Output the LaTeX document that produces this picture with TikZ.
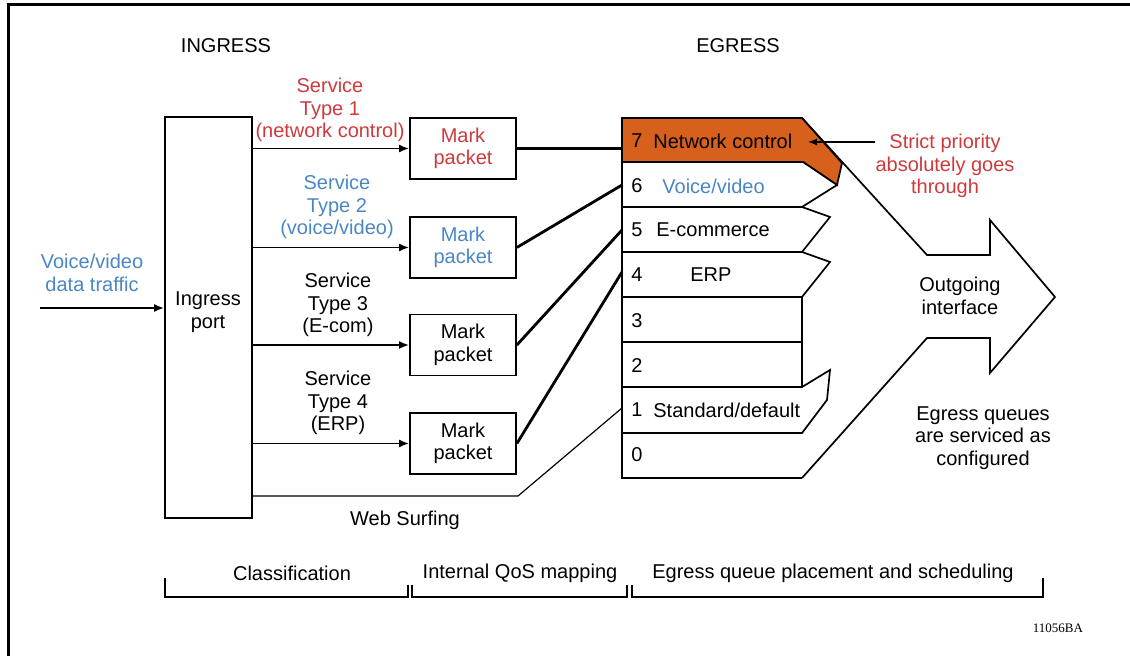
\documentclass[tikz,border=0pt]{standalone}
\usepackage{fontspec}
\setmainfont{Liberation Sans}
\newfontfamily\serifid{Liberation Serif}
\usetikzlibrary{arrows.meta}
\definecolor{cred}{RGB}{206,58,60}
\definecolor{cblue}{RGB}{74,134,197}
\definecolor{corange}{RGB}{214,96,28}
\begin{document}
\begin{tikzpicture}[x=0.5pt,y=-0.5pt,
  every node/.style={font=\fontsize{10}{11.25}\selectfont, align=center, inner sep=0pt},
  box/.style={draw, line width=0.9pt, minimum width=53pt, minimum height=30.5pt},
  flow/.style={line width=0.9pt, -{Latex[length=5pt,width=4pt]}},
  heavy/.style={line width=1.4pt},
  thinline/.style={line width=0.6pt},
  queue/.style={draw, line width=0.85pt, fill=white},
  brk/.style={line width=0.85pt}
]
\useasboundingbox (0,0) rectangle (1130,656);
% frame
\draw[line width=1.5pt] (8,656) -- (8,5) -- (1130,5);

% headings
\node (hin) at (226,46) {INGRESS};
\node (heg) at (738,46) {EGRESS};

% ingress port
\node[draw, line width=0.9pt, minimum width=43.5pt, minimum height=200.5pt] (ing) at (208.5,317.5) {};
\node (ingt) at (208,312) {Ingress\\port};

% input
\coordinate (in) at (40,308);
\node[text=cblue] (vv) at (92,273) {Voice/video\\data traffic};
\draw[flow] (in) -- (in -| ing.west);

% mark packet boxes
\node[box, text=cred] (m1) at (463,148.5) {Mark\\packet};
\node[box, text=cblue] (m2) at (463,247.5) {Mark\\packet};
\node[box] (m3) at (463,345) {Mark\\packet};
\node[box] (m4) at (463,443.5) {Mark\\packet};

% service labels
\node[text=cred] (s1) at (330,110) {Service\\Type 1\\(network control)};
\node[text=cblue] (s2) at (337,207) {Service\\Type 2\\(voice/video)};
\node (s3) at (338,305) {Service\\Type 3\\(E-com)};
\node (s4) at (338,403) {Service\\Type 4\\(ERP)};

\draw[flow] (ing.east |- m1.west) -- (m1.west);
\draw[flow] (ing.east |- m2.west) -- (m2.west);
\draw[flow] (ing.east |- m3.west) -- (m3.west);
\draw[flow] (ing.east |- m4.west) -- (m4.west);

% big outgoing arrow
\draw[line width=0.85pt, line join=miter] (802,118) -- (927,255) -- (990,255) -- (990,220) -- (1055,297) -- (990,373) -- (990,338) -- (927,338) -- (802,478);

% queues
\draw[queue, fill=corange] (622,118) -- (802,118) -- (842,163) -- (837,185) -- (803,162) -- (622,162) -- cycle;
\draw[queue] (622,162) -- (803,162) -- (837,185) -- (802,207) -- (622,207) -- cycle;
\draw[queue] (622,207) -- (802,207) -- (830,217) -- (802,252) -- (622,252) -- cycle;
\draw[queue] (622,252) -- (802,252) -- (830,262) -- (802,297) -- (622,297) -- cycle;
\draw[queue] (622,297) rectangle (802,342);
\draw[queue] (622,342) rectangle (802,387);
\draw[queue] (622,387) -- (802,387) -- (830,370) -- (827,400) -- (802,433) -- (622,433) -- cycle;
\draw[line width=0.85pt] (802,433) -- (622,433) -- (622,478) -- (802,478);

% queue labels
\node (n7) at (637,141) {7};
\node[anchor=west] (l7) at (653,141) {Network control};
\node (n6) at (637,186) {6};
\node[anchor=west, text=cblue] (l6) at (662,186) {Voice/video};
\node (n5) at (637,230) {5};
\node[anchor=west] (l5) at (656,230) {E-commerce};
\node (n4) at (637,275) {4};
\node[anchor=west] (l4) at (690,275) {ERP};
\node (n3) at (637,321) {3};
\node (n2) at (637,366) {2};
\node (n1) at (637,410) {1};
\node[anchor=west] (l1) at (653,410) {Standard/default};
\node (n0) at (637,455) {0};

% connectors to queues
\coordinate (q7) at (622,148.5);
\coordinate (q6) at (622,185);
\coordinate (q5) at (622,230);
\coordinate (q4) at (622,272);
\coordinate (q1) at (622,408);
\coordinate (ws) at (518,496);
\draw[thinline] (ing.east |- ws) -- (ws) -- (q1);
\draw[heavy] (m1.east) -- (q7);
\draw[heavy] (m2.east) -- (q6);
\draw[heavy] (m3.east) -- (q5);
\draw[heavy] (m4.east) -- (q4);
\node (wst) at (405,520) {Web Surfing};

% right-side texts
\node[text=cred] (sp) at (945,166) {Strict priority\\absolutely goes\\through};
\coordinate (spt) at (808,142);
\draw[line width=0.6pt, -{Latex[length=4.5pt,width=3.5pt]}] (sp.west |- spt) -- (spt);
\node (oi) at (960,296) {Outgoing\\interface};
\node (eq) at (983,438) {Egress queues\\are serviced as\\configured};

% bottom brackets
\draw[brk] (165,578) -- (165,597) -- (408,597) -- (408,585);
\draw[brk] (412,585) -- (412,597) -- (627,597) -- (627,585);
\draw[brk] (632,585) -- (632,597) -- (1043,597) -- (1043,578);
\node (c1) at (292,573) {Classification};
\node (c2) at (520,573) {Internal QoS mapping};
\node (c3) at (833,573) {Egress queue placement and scheduling};

\node[font=\serifid\fontsize{6.5}{7}\selectfont] (id) at (1058,628) {11056BA};
\end{tikzpicture}
\end{document}
